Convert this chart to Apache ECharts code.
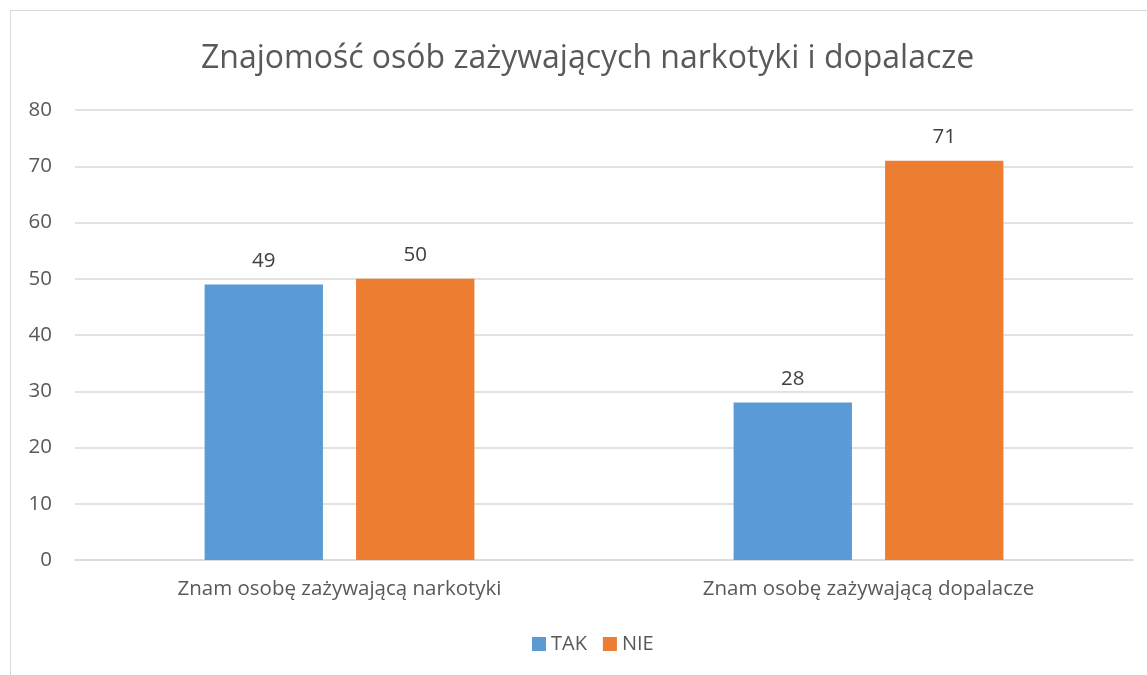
<!DOCTYPE html>
<html>
<head>
<meta charset="utf-8">
<script src="https://cdn.jsdelivr.net/npm/echarts@6/dist/echarts.min.js"></script>
<style>
  html, body { margin: 0; padding: 0; background: #fff; overflow: hidden; }
  #chart { position: absolute; left: 0; top: 0; width: 1147px; height: 675px; }
  #ramka { position: absolute; left: 10px; top: 10px; width: 1200px; height: 700px;
           border: 1px solid #d9d9d9; pointer-events: none; }
</style>
</head>
<body>
<div id="chart"></div>
<div id="ramka"></div>
<script>
// dane z wykresu
const kategorie = ['Znam osobę zażywającą narkotyki', 'Znam osobę zażywającą dopalacze'];
const tak = [49, 28];
const nie = [50, 71];
const tytul = 'Znajomość osób zażywających narkotyki i dopalacze';

const font = '"Open Sans", "Noto Sans", sans-serif';
const szary = '#595959';

const myChart = echarts.init(document.getElementById('chart'));

myChart.setOption({
  animation: false,
  textStyle: { fontFamily: font },
  title: {
    text: tytul,
    left: 196,
    top: 38,
    textStyle: { fontFamily: font, fontSize: 32, fontWeight: 'normal', color: szary }
  },
  legend: {
    bottom: 16,
    left: 527,
    itemWidth: 14,
    itemHeight: 14,
    itemGap: 16,
    icon: 'rect',
    textStyle: { fontFamily: font, fontSize: 20, color: szary }
  },
  grid: { left: 75, right: 14, top: 110, bottom: 115 },
  xAxis: {
    type: 'category',
    data: kategorie,
    axisTick: { show: false },
    axisLine: { lineStyle: { color: '#d9d9d9', width: 1.5 } },
    axisLabel: { color: szary, fontSize: 20.5, margin: 19 }
  },
  yAxis: {
    type: 'value',
    min: 0,
    max: 80,
    interval: 10,
    axisLine: { show: false },
    axisTick: { show: false },
    splitLine: { lineStyle: { color: '#d9d9d9', width: 1.5 } },
    axisLabel: { color: szary, fontSize: 20.5, margin: 23 }
  },
  series: [
    {
      name: 'TAK',
      type: 'bar',
      data: tak,
      barGap: '28%',
      barCategoryGap: '49%',
      itemStyle: { color: '#5b9bd5' },
      label: { show: true, position: 'top', distance: 13, color: '#404040', fontSize: 20.5 }
    },
    {
      name: 'NIE',
      type: 'bar',
      data: nie,
      itemStyle: { color: '#ed7d31' },
      label: { show: true, position: 'top', distance: 13, color: '#404040', fontSize: 20.5 }
    }
  ]
});
</script>
</body>
</html>
